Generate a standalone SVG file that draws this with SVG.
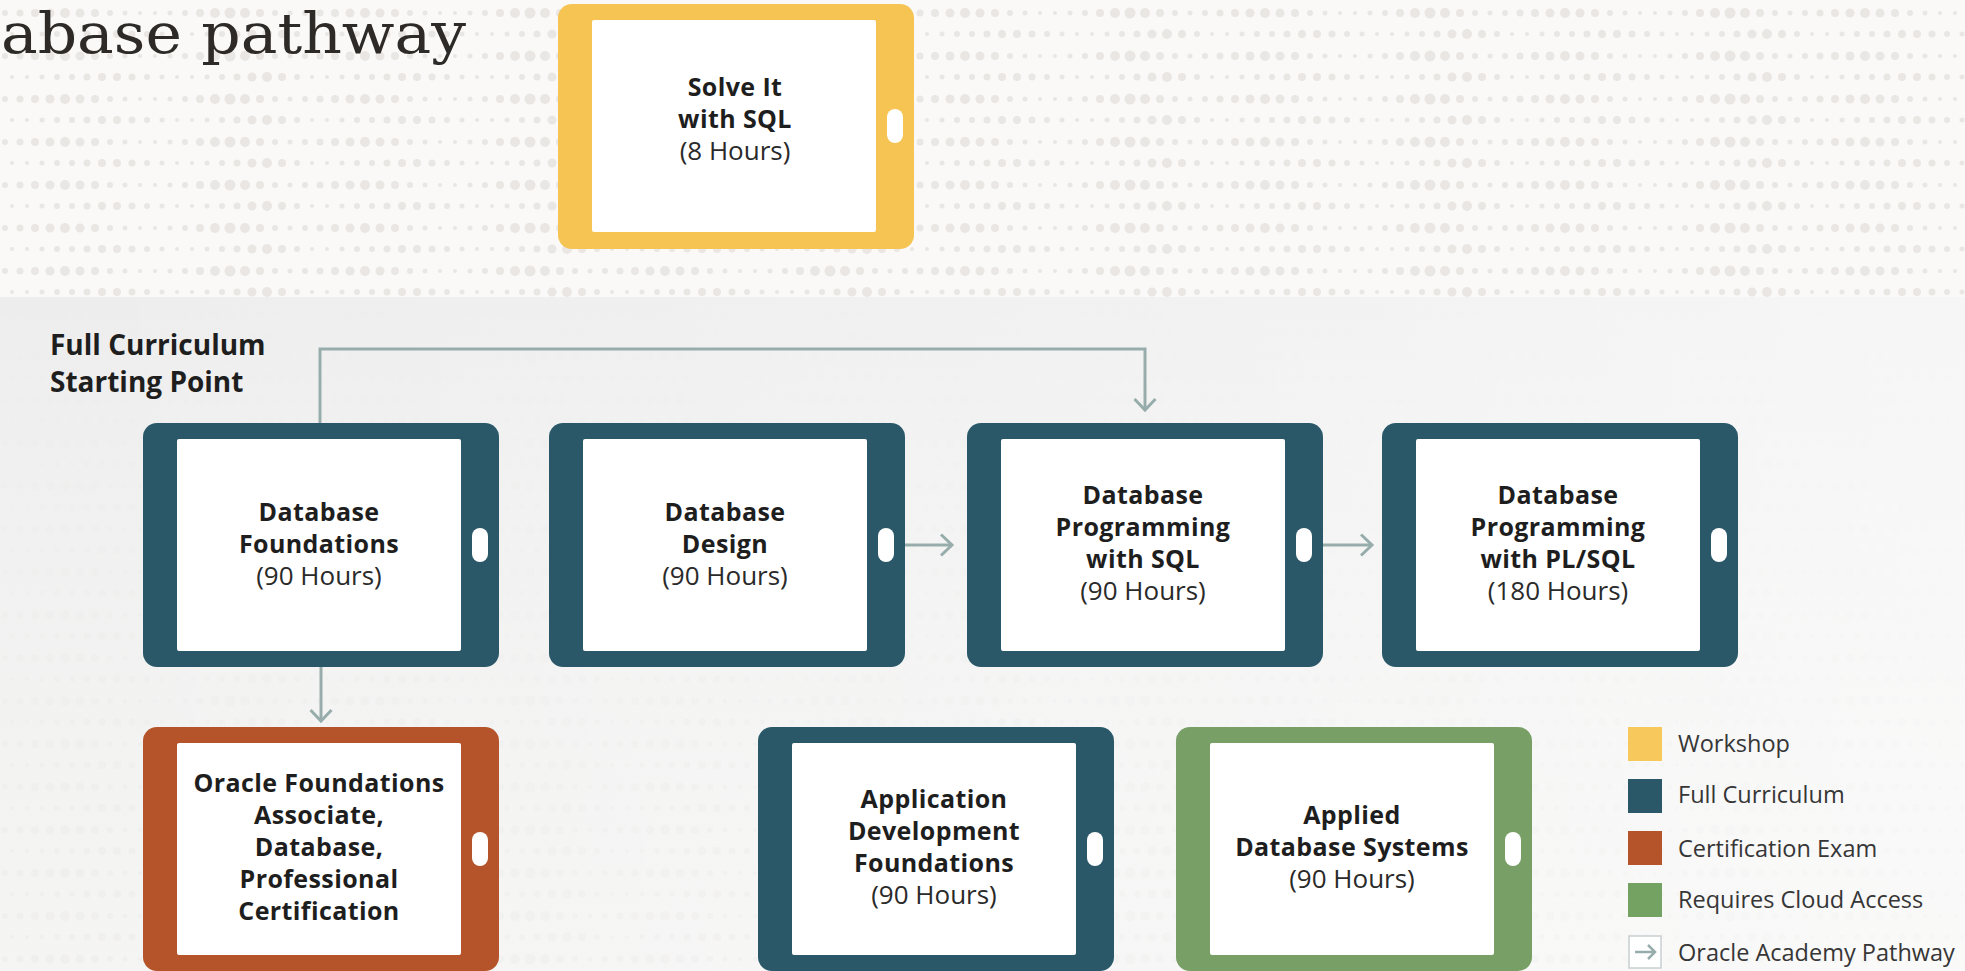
<svg xmlns="http://www.w3.org/2000/svg" xmlns:xlink="http://www.w3.org/1999/xlink" width="1965" height="971" viewBox="0 0 1965 971">
<defs>
<style>
.bg{fill:#faf9f7}
.dot{fill:#e9e6e3}
.yel{fill:#f5c452}
.teal{fill:#2a5869}
.ora{fill:#b5542a}
.grn{fill:#789f66}
.t{font-family:"Open Sans","Noto Sans","Liberation Sans",sans-serif;text-anchor:middle;fill:#1e1e1e}
.b{font-weight:700;font-size:25px;letter-spacing:0.4px}
.r{font-weight:400;font-size:26px;fill:#2a2a2a}
.lab{font-family:"Open Sans","Noto Sans","Liberation Sans",sans-serif;font-weight:700;font-size:28px;fill:#1e1e1e}
.leg{font-family:"Open Sans","Noto Sans","Liberation Sans",sans-serif;font-weight:400;font-size:23.5px;fill:#363636}
.con{fill:none;stroke:#97adab;stroke-width:3}
</style>
<pattern id="dots" x="0" y="2" width="300" height="43" patternUnits="userSpaceOnUse">
<g class="dot">
<circle cx="5" cy="11" r="3"/><circle cx="20" cy="11" r="3.5"/><circle cx="35" cy="11" r="4"/><circle cx="50" cy="11" r="4.5"/><circle cx="65" cy="11" r="5"/><circle cx="80" cy="11" r="4.5"/><circle cx="95" cy="11" r="4"/><circle cx="110" cy="11" r="3"/><circle cx="125" cy="11" r="2.5"/><circle cx="140" cy="11" r="2"/><circle cx="155" cy="11" r="2"/><circle cx="170" cy="11" r="2.5"/><circle cx="185" cy="11" r="3"/><circle cx="200" cy="11" r="4"/><circle cx="215" cy="11" r="5"/><circle cx="230" cy="11" r="5.5"/><circle cx="245" cy="11" r="5"/><circle cx="260" cy="11" r="4"/><circle cx="275" cy="11" r="3"/><circle cx="290" cy="11" r="2.5"/>
<circle cx="12" cy="32" r="2"/><circle cx="27" cy="32" r="2"/><circle cx="42" cy="32" r="2.5"/><circle cx="57" cy="32" r="3"/><circle cx="72" cy="32" r="3"/><circle cx="87" cy="32" r="3.5"/><circle cx="102" cy="32" r="4"/><circle cx="117" cy="32" r="4"/><circle cx="132" cy="32" r="3.5"/><circle cx="147" cy="32" r="3"/><circle cx="162" cy="32" r="2.5"/><circle cx="177" cy="32" r="2"/><circle cx="192" cy="32" r="2"/><circle cx="207" cy="32" r="2.5"/><circle cx="222" cy="32" r="3"/><circle cx="237" cy="32" r="3.5"/><circle cx="252" cy="32" r="4.5"/><circle cx="267" cy="32" r="5"/><circle cx="282" cy="32" r="4"/><circle cx="297" cy="32" r="3"/>
</g>
</pattern>
<linearGradient id="bandV" x1="0" y1="0" x2="0" y2="1">
<stop offset="0" stop-color="#ededed" stop-opacity="0.97"/>
<stop offset="0.35" stop-color="#f0f0f0" stop-opacity="0.9"/>
<stop offset="1" stop-color="#f3f3f3" stop-opacity="0.72"/>
</linearGradient>
<linearGradient id="bandH" x1="0" y1="0" x2="1" y2="0">
<stop offset="0" stop-color="#ffffff" stop-opacity="0"/>
<stop offset="0.6" stop-color="#ffffff" stop-opacity="0.25"/>
<stop offset="1" stop-color="#ffffff" stop-opacity="0.5"/>
</linearGradient>
<g id="screen">
<rect x="34" y="16" width="284" height="212" rx="2" fill="#ffffff"/>
<rect x="329" y="105" width="16" height="34" rx="8" fill="#ffffff"/>
</g>
<marker id="chev" markerUnits="userSpaceOnUse" markerWidth="16" markerHeight="26" refX="12" refY="11" orient="auto" overflow="visible">
<path d="M1,0.5 L12,11 L1,21.5" fill="none" stroke="#97adab" stroke-width="3"/>
</marker>
</defs>

<g id="background">
<rect class="bg" x="0" y="0" width="1965" height="971"/>
<rect x="0" y="0" width="1965" height="971" fill="url(#dots)"/>
<rect x="0" y="297" width="1965" height="674" fill="url(#bandV)"/>
<rect x="0" y="297" width="1965" height="674" fill="url(#bandH)"/>
</g>

<text id="title" x="1" y="53" font-family="'DejaVu Serif','Liberation Serif',serif" font-size="56" fill="#2e2a27" textLength="465" lengthAdjust="spacingAndGlyphs">abase pathway</text>

<text id="start-label" class="lab"><tspan x="50" y="355">Full Curriculum</tspan><tspan x="50" y="392">Starting Point</tspan></text>

<g id="connectors">
<path class="con" d="M320,423 V349 H1145 V410" marker-end="url(#chev)"/>
<path class="con" d="M321,667 V721" marker-end="url(#chev)"/>
<path class="con" d="M905,545 H952" marker-end="url(#chev)"/>
<path class="con" d="M1323,545 H1372" marker-end="url(#chev)"/>
</g>

<g id="solve-it">
<rect class="yel" x="558" y="4" width="356" height="245" rx="14"/>
<use xlink:href="#screen" x="558" y="4"/>
<text class="t b" x="735" y="96">Solve It</text>
<text class="t b" x="735" y="128">with SQL</text>
<text class="t r" x="735" y="160">(8 Hours)</text>
</g>

<g id="db-foundations">
<rect class="teal" x="143" y="423" width="356" height="244" rx="14"/>
<use xlink:href="#screen" x="143" y="423"/>
<text class="t b" x="319" y="521">Database</text>
<text class="t b" x="319" y="553">Foundations</text>
<text class="t r" x="319" y="585">(90 Hours)</text>
</g>

<g id="db-design">
<rect class="teal" x="549" y="423" width="356" height="244" rx="14"/>
<use xlink:href="#screen" x="549" y="423"/>
<text class="t b" x="725" y="521">Database</text>
<text class="t b" x="725" y="553">Design</text>
<text class="t r" x="725" y="585">(90 Hours)</text>
</g>

<g id="db-programming-sql">
<rect class="teal" x="967" y="423" width="356" height="244" rx="14"/>
<use xlink:href="#screen" x="967" y="423"/>
<text class="t b" x="1143" y="504">Database</text>
<text class="t b" x="1143" y="536">Programming</text>
<text class="t b" x="1143" y="568">with SQL</text>
<text class="t r" x="1143" y="600">(90 Hours)</text>
</g>

<g id="db-programming-plsql">
<rect class="teal" x="1382" y="423" width="356" height="244" rx="14"/>
<use xlink:href="#screen" x="1382" y="423"/>
<text class="t b" x="1558" y="504">Database</text>
<text class="t b" x="1558" y="536">Programming</text>
<text class="t b" x="1558" y="568">with PL/SQL</text>
<text class="t r" x="1558" y="600">(180 Hours)</text>
</g>

<g id="oracle-certification">
<rect class="ora" x="143" y="727" width="356" height="244" rx="14"/>
<use xlink:href="#screen" x="143" y="727"/>
<text class="t b" x="319" y="792">Oracle Foundations</text>
<text class="t b" x="319" y="824">Associate,</text>
<text class="t b" x="319" y="856">Database,</text>
<text class="t b" x="319" y="888">Professional</text>
<text class="t b" x="319" y="920">Certification</text>
</g>

<g id="app-dev-foundations">
<rect class="teal" x="758" y="727" width="356" height="244" rx="14"/>
<use xlink:href="#screen" x="758" y="727"/>
<text class="t b" x="934" y="808">Application</text>
<text class="t b" x="934" y="840">Development</text>
<text class="t b" x="934" y="872">Foundations</text>
<text class="t r" x="934" y="904">(90 Hours)</text>
</g>

<g id="applied-db-systems">
<rect class="grn" x="1176" y="727" width="356" height="244" rx="14"/>
<use xlink:href="#screen" x="1176" y="727"/>
<text class="t b" x="1352" y="824">Applied</text>
<text class="t b" x="1352" y="856">Database Systems</text>
<text class="t r" x="1352" y="888">(90 Hours)</text>
</g>

<g id="legend">
<rect x="1628" y="727" width="34" height="34" fill="#f7c95c"/>
<text class="leg" x="1678" y="752">Workshop</text>
<rect class="teal" x="1628" y="779" width="34" height="34"/>
<text class="leg" x="1678" y="803">Full Curriculum</text>
<rect class="ora" x="1628" y="831" width="34" height="34"/>
<text class="leg" x="1678" y="857">Certification Exam</text>
<rect x="1628" y="883" width="34" height="34" fill="#74a262"/>
<text class="leg" x="1678" y="908">Requires Cloud Access</text>
<rect x="1629" y="936" width="32" height="32" fill="#ffffff" stroke="#c8d0d2" stroke-width="1.5"/>
<path d="M1635,952 H1655 M1648,945 L1655,952 L1648,959" fill="none" stroke="#97adab" stroke-width="2.5"/>
<text class="leg" x="1678" y="961">Oracle Academy Pathway</text>
</g>
</svg>
